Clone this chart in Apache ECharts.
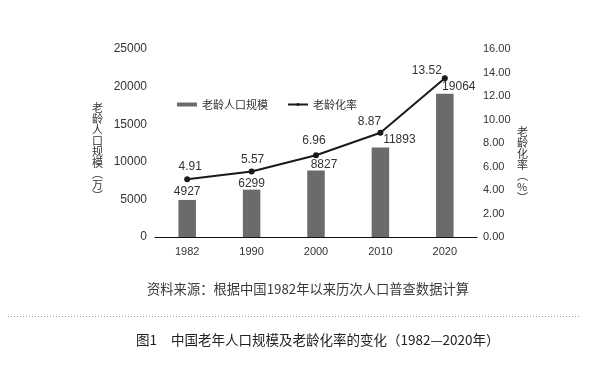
<!DOCTYPE html>
<html>
<head>
<meta charset="utf-8">
<script src="https://cdn.jsdelivr.net/npm/echarts@6/dist/echarts.min.js"></script>
<style>
html,body{margin:0;padding:0;background:#fff;}
#c{width:589px;height:373px;}
</style>
</head>
<body>
<div id="c"></div>
<script>
var categories = ['1982', '1990', '2000', '2010', '2020'];
var popValues = [4927, 6299, 8827, 11893, 19064];
var rateValues = [4.91, 5.57, 6.96, 8.87, 13.52];
var leftTicks = [0, 25000, 5000];
var rightTicks = [0, 16, 2];

// label nudges (style only)
var barLabelNudge = [[0, 0], [0, 2], [8, 2], [19, 0], [14, 1]];
var lineLabelNudge = [[3, -1], [1, 0], [-2, -3], [-11, 1], [-18, 5]];

var FONT = '"Liberation Sans", Arial, sans-serif';
var CJK = '"Noto Sans CJK SC", sans-serif';

var chart = echarts.init(document.getElementById('c'), null, {renderer: 'canvas'});

var barData = popValues.map(function (v, i) {
  return {value: v, label: {offset: barLabelNudge[i]}};
});
var lineData = rateValues.map(function (v, i) {
  return {value: v, label: {offset: lineLabelNudge[i]}};
});

chart.setOption({
  backgroundColor: '#fff',
  animation: false,
  grid: {left: 155, right: 112, top: 49, bottom: 136, containLabel: false},
  legend: {
    left: 172, top: 94,
    itemWidth: 20, itemHeight: 4, itemGap: 19,
    textStyle: {fontSize: 11, color: '#333', fontFamily: CJK},
    data: [
      {name: '老龄人口规模', icon: 'rect'},
      {name: '老龄化率'}
    ]
  },
  xAxis: {
    type: 'category',
    data: categories,
    axisLine: {lineStyle: {color: '#111', width: 1}},
    axisTick: {show: false},
    axisLabel: {color: '#333', fontSize: 11, fontFamily: FONT, margin: 9}
  },
  yAxis: [
    {
      type: 'value', min: leftTicks[0], max: leftTicks[1], interval: leftTicks[2],
      axisLine: {show: false}, axisTick: {show: false}, splitLine: {show: false},
      axisLabel: {color: '#333', fontSize: 12, fontFamily: FONT, margin: 8,
        formatter: function (v) { return String(v); }}
    },
    {
      type: 'value', min: rightTicks[0], max: rightTicks[1], interval: rightTicks[2],
      position: 'right',
      axisLine: {show: false}, axisTick: {show: false}, splitLine: {show: false},
      axisLabel: {color: '#333', fontSize: 11, fontFamily: FONT, margin: 6,
        formatter: function (v) { return v.toFixed(2); }}
    }
  ],
  series: [
    {
      name: '老龄人口规模', type: 'bar', yAxisIndex: 0,
      data: barData, barWidth: 17.5,
      itemStyle: {color: '#6b6b6b'},
      label: {show: true, position: 'top', distance: 2, color: '#333', fontSize: 12, fontFamily: FONT}
    },
    {
      name: '老龄化率', type: 'line', yAxisIndex: 1,
      data: lineData, z: 5,
      lineStyle: {color: '#1a1a1a', width: 2},
      itemStyle: {color: '#1a1a1a'},
      symbol: 'circle', symbolSize: 6,
      label: {show: true, position: 'top', distance: 3, color: '#333', fontSize: 12, fontFamily: FONT}
    }
  ],
  graphic: [
    {
      type: 'text', left: 92, top: 102,
      style: {text: '老\n龄\n人\n口\n规\n模\n︵\n万\n︶', fontSize: 11, lineHeight: 11,
        fill: '#333', fontFamily: CJK, align: 'center'}
    },
    {
      type: 'text', left: 517, top: 126,
      style: {text: '老\n龄\n化\n率\n︵\n%\n︶', fontSize: 11, lineHeight: 11,
        fill: '#333', fontFamily: CJK, align: 'center'}
    },
    {
      type: 'text', left: 147, top: 282,
      style: {text: '资料来源：根据中国1982年以来历次人口普查数据计算', fontSize: 13.3,
        fill: '#3a3a3a', fontFamily: CJK}
    },
    {
      type: 'line', shape: {x1: 8, y1: 316.5, x2: 580, y2: 316.5},
      style: {stroke: '#999', lineWidth: 1, lineDash: [1, 2]}
    },
    {
      type: 'text', left: 136, top: 333,
      style: {text: '图1', fontSize: 13.5, fill: '#222', fontFamily: CJK}
    },
    {
      type: 'text', left: 171, top: 333,
      style: {text: '中国老年人口规模及老龄化率的变化（1982—2020年）', fontSize: 13.5,
        fill: '#222', fontFamily: CJK}
    }
  ]
});
</script>
</body>
</html>
